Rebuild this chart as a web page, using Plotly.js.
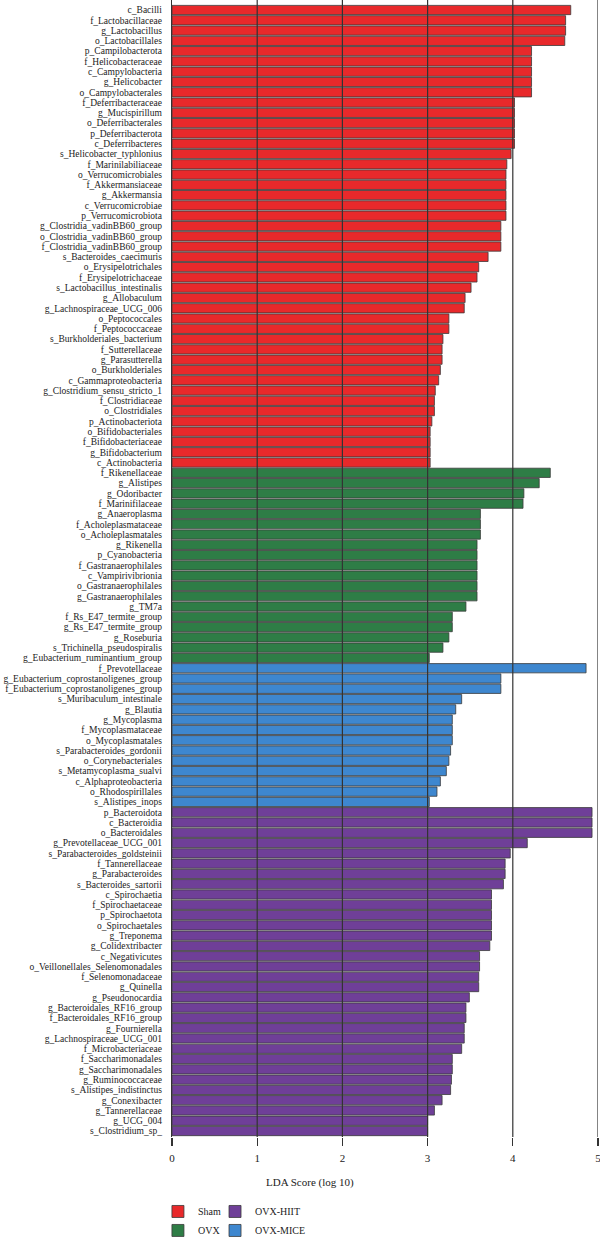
<!DOCTYPE html>
<html>
<head>
<meta charset="utf-8">
<script src="https://cdn.plot.ly/plotly-3.0.1.min.js"></script>
<style>html,body{margin:0;padding:0;background:#fff;}#chart{width:600px;height:1238px;}</style>
</head>
<body>
<div id="chart"></div>
<script>
const shamLabels = ["c_Bacilli","f_Lactobacillaceae","g_Lactobacillus","o_Lactobacillales","p_Campilobacterota","f_Helicobacteraceae","c_Campylobacteria","g_Helicobacter","o_Campylobacterales","f_Deferribacteraceae","g_Mucispirillum","o_Deferribacterales","p_Deferribacterota","c_Deferribacteres","s_Helicobacter_typhlonius","f_Marinilabiliaceae","o_Verrucomicrobiales","f_Akkermansiaceae","g_Akkermansia","c_Verrucomicrobiae","p_Verrucomicrobiota","g_Clostridia_vadinBB60_group","o_Clostridia_vadinBB60_group","f_Clostridia_vadinBB60_group","s_Bacteroides_caecimuris","o_Erysipelotrichales","f_Erysipelotrichaceae","s_Lactobacillus_intestinalis","g_Allobaculum","g_Lachnospiraceae_UCG_006","o_Peptococcales","f_Peptococcaceae","s_Burkholderiales_bacterium","f_Sutterellaceae","g_Parasutterella","o_Burkholderiales","c_Gammaproteobacteria","g_Clostridium_sensu_stricto_1","f_Clostridiaceae","o_Clostridiales","p_Actinobacteriota","o_Bifidobacteriales","f_Bifidobacteriaceae","g_Bifidobacterium","c_Actinobacteria"];
const shamValues = [4.68,4.62,4.62,4.61,4.22,4.22,4.22,4.22,4.22,4.02,4.02,4.02,4.02,4.02,3.98,3.93,3.92,3.92,3.92,3.92,3.92,3.86,3.86,3.86,3.71,3.60,3.58,3.51,3.44,3.43,3.25,3.25,3.18,3.17,3.17,3.15,3.13,3.09,3.08,3.08,3.05,3.03,3.03,3.03,3.03];

const ovxLabels = ["f_Rikenellaceae","g_Alistipes","g_Odoribacter","f_Marinifilaceae","g_Anaeroplasma","f_Acholeplasmataceae","o_Acholeplasmatales","g_Rikenella","p_Cyanobacteria","f_Gastranaerophilales","c_Vampirivibrionia","o_Gastranaerophilales","g_Gastranaerophilales","g_TM7a","f_Rs_E47_termite_group","g_Rs_E47_termite_group","g_Roseburia","s_Trichinella_pseudospiralis","g_Eubacterium_ruminantium_group"];
const ovxValues = [4.44,4.31,4.13,4.12,3.62,3.62,3.62,3.58,3.58,3.58,3.58,3.58,3.58,3.45,3.29,3.29,3.25,3.18,3.02];

const miceLabels = ["f_Prevotellaceae","g_Eubacterium_coprostanoligenes_group","f_Eubacterium_coprostanoligenes_group","s_Muribaculum_intestinale","g_Blautia","g_Mycoplasma","f_Mycoplasmataceae","o_Mycoplasmatales","s_Parabacteroides_gordonii","o_Corynebacteriales","s_Metamycoplasma_sualvi","c_Alphaproteobacteria","o_Rhodospirillales","s_Alistipes_inops"];
const miceValues = [4.86,3.86,3.86,3.40,3.33,3.29,3.29,3.29,3.27,3.25,3.22,3.15,3.11,3.02];

const hiitLabels = ["p_Bacteroidota","c_Bacteroidia","o_Bacteroidales","g_Prevotellaceae_UCG_001","s_Parabacteroides_goldsteinii","f_Tannerellaceae","g_Parabacteroides","s_Bacteroides_sartorii","c_Spirochaetia","f_Spirochaetaceae","p_Spirochaetota","o_Spirochaetales","g_Treponema","g_Colidextribacter","c_Negativicutes","o_Veillonellales_Selenomonadales","f_Selenomonadaceae","g_Quinella","g_Pseudonocardia","g_Bacteroidales_RF16_group","f_Bacteroidales_RF16_group","g_Fournierella","g_Lachnospiraceae_UCG_001","f_Microbacteriaceae","f_Saccharimonadales","g_Saccharimonadales","g_Ruminococcaceae","s_Alistipes_indistinctus","g_Conexibacter","g_Tannerellaceae","g_UCG_004","s_Clostridium_sp_"];
const hiitValues = [4.93,4.93,4.93,4.17,3.97,3.91,3.91,3.89,3.75,3.75,3.75,3.75,3.75,3.73,3.61,3.61,3.60,3.60,3.49,3.45,3.45,3.43,3.43,3.40,3.29,3.29,3.28,3.27,3.17,3.08,3.00,3.00];

const xTicks = [0,1,2,3,4,5];
const groupNames = ["Sham","OVX","OVX-MICE","OVX-HIIT"];
const groupColors = ["#E8292B","#2E7D46","#3E87CF","#6F3F98"];

const allLabels = shamLabels.concat(ovxLabels, miceLabels, hiitLabels);
const FONT = "'Liberation Serif', 'Times New Roman', serif";

function barTrace(labels, values, i, legendId) {
  return {
    type: "bar", orientation: "h",
    x: values, y: labels, name: groupNames[i],
    marker: {color: groupColors[i], line: {color: "#3a3a3a", width: 0.8}},
    legend: legendId,
    width: 0.9, hoverinfo: "x+y"
  };
}

const data = [
  barTrace(shamLabels, shamValues, 0, "legend"),
  barTrace(ovxLabels, ovxValues, 1, "legend3"),
  barTrace(miceLabels, miceValues, 2, "legend4"),
  barTrace(hiitLabels, hiitValues, 3, "legend2")
];

const n = allLabels.length;
const shapes = xTicks.filter(v => v > 0).map(v => ({
  type: "line", xref: "x", yref: "paper", x0: v, x1: v, y0: 0, y1: 1,
  line: {color: "#333", width: 1.2}, layer: "above"
}));

const legendCommon = {
  orientation: "h", xanchor: "left", yanchor: "middle",
  bgcolor: "rgba(0,0,0,0)", borderwidth: 0,
  font: {family: FONT, size: 10, color: "#222"},
  itemclick: false
};
const col1 = -0.033, col2 = 0.101, row1 = -0.0655, row2 = -0.0822;

const layout = {
  width: 600, height: 1238,
  margin: {l: 172, r: 2, t: 0, b: 101, autoexpand: false},
  paper_bgcolor: "#fff", plot_bgcolor: "#fff",
  barmode: "overlay",
  font: {family: FONT, size: 10, color: "#222"},
  xaxis: {
    range: [0, 5], tickvals: xTicks, ticktext: xTicks.map(String),
    showgrid: false, zeroline: false, showline: false,
    ticks: "outside", ticklen: 8, tickcolor: "#333", tickwidth: 1.2,
    ticklabelstandoff: 3, ticklabeloverflow: "allow",
    tickfont: {family: FONT, size: 11, color: "#222"},
    fixedrange: true, automargin: false
  },
  yaxis: {
    type: "category", categoryorder: "array", categoryarray: allLabels,
    tickmode: "array", tickvals: allLabels, ticktext: allLabels,
    range: [n - 1 + 0.58, -0.973],
    showgrid: false, zeroline: false, showline: true, linecolor: "#333", linewidth: 1.2,
    ticks: "", ticklabelstandoff: 7, automargin: false,
    tickfont: {family: FONT, size: 9.5, color: "#222"}, fixedrange: true
  },
  shapes: shapes,
  annotations: [{
    xref: "paper", yref: "paper", x: 0.324, y: -0.0396,
    xanchor: "center", yanchor: "middle", showarrow: false,
    text: "LDA Score (log 10)", font: {family: FONT, size: 11, color: "#222"}
  }],
  showlegend: true,
  legend: Object.assign({}, legendCommon, {x: col1, y: row1}),
  legend2: Object.assign({}, legendCommon, {x: col2, y: row1}),
  legend3: Object.assign({}, legendCommon, {x: col1, y: row2}),
  legend4: Object.assign({}, legendCommon, {x: col2, y: row2})
};

Plotly.newPlot("chart", data, layout, {displayModeBar: false, staticPlot: true});
</script>
</body>
</html>
